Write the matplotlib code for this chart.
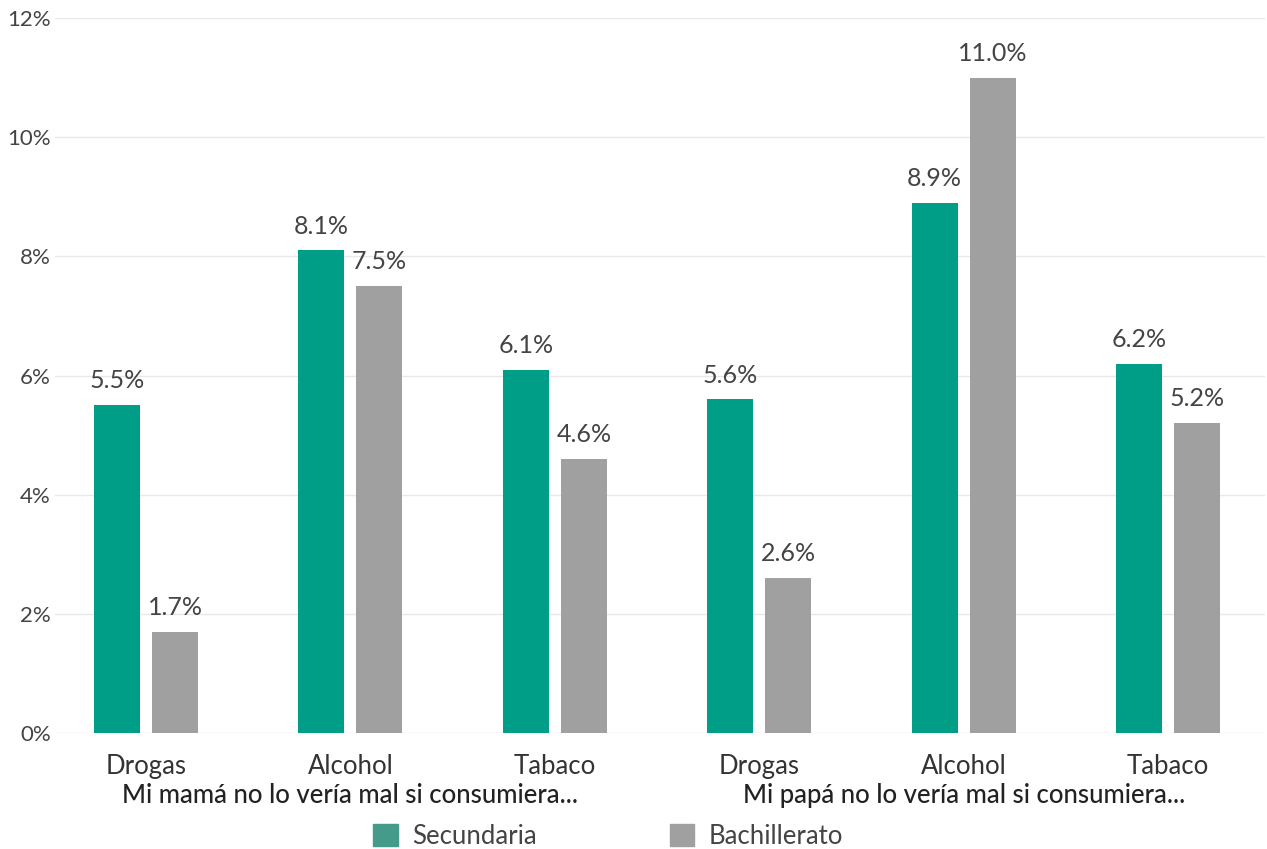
import numpy as np
import matplotlib.pyplot as plt
from matplotlib.patches import Patch

categories = ['Drogas', 'Alcohol', 'Tabaco', 'Drogas', 'Alcohol', 'Tabaco']
groups = ['Mi mamá no lo vería mal si consumiera...', 'Mi papá no lo vería mal si consumiera...']
secundaria = [5.5, 8.1, 6.1, 5.6, 8.9, 6.2]
bachillerato = [1.7, 7.5, 4.6, 2.6, 11.0, 5.2]
yticks = [0, 2, 4, 6, 8, 10, 12]

GREEN = '#009e87'
GRAY = '#a0a0a0'
TEXT = '#444444'

plt.rcParams['font.family'] = ['Lato', 'DejaVu Sans']

fig = plt.figure(figsize=(12.67, 8.49), dpi=100)
ax = fig.add_axes([55 / 1267, 116 / 849, 1210 / 1267, 715 / 849])

x = np.arange(len(categories))
w = 0.225
off = 0.142
ax.bar(x - off, secundaria, w, color=GREEN, zorder=3)
ax.bar(x + off, bachillerato, w, color=GRAY, zorder=3)

for xi, v in zip(x, secundaria):
    ax.annotate(f'{v:.1f}%', (xi - off, v), xytext=(0, 17.5), textcoords='offset points',
                ha='center', va='center', fontsize=18, color=TEXT)
for xi, v in zip(x, bachillerato):
    ax.annotate(f'{v:.1f}%', (xi + off, v), xytext=(0, 17.5), textcoords='offset points',
                ha='center', va='center', fontsize=18, color=TEXT)

ax.set_xlim(-0.445, 5.474)
ax.set_ylim(0, 12)
ax.set_yticks(yticks)
ax.set_yticklabels([f'{t}%' for t in yticks], fontsize=16, color=TEXT)
ax.set_xticks(x)
ax.set_xticklabels(categories, fontsize=18.5, color='#333333')
ax.tick_params(axis='both', length=0)
ax.tick_params(axis='y', pad=3)
ax.tick_params(axis='x', pad=15)
ax.grid(axis='y', color='#e8e8e8', linewidth=1, zorder=0)
for s in ax.spines.values():
    s.set_visible(False)

# group labels under the category ticks
for i, g in enumerate(groups):
    ax.text(1 + 3 * i, -0.088, g, transform=ax.get_xaxis_transform(),
            ha='center', va='center', fontsize=18.5, fontweight='medium', color='#222222')

handles = [Patch(color='#449b89', label='Secundaria'),
           Patch(color=GRAY, label='Bachillerato')]
fig.legend(handles=handles, loc='center', bbox_to_anchor=(608 / 1267, 1 - 836 / 849),
           ncol=2, frameon=False, handlelength=0.95, handleheight=0.95,
           handletextpad=0.55, columnspacing=5.2, labelcolor=TEXT,
           prop={'size': 18.5})

fig.savefig('out.png', dpi=100)
